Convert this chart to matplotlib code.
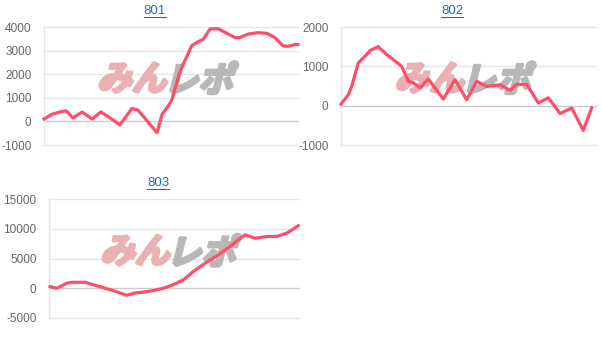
import matplotlib
matplotlib.use("Agg")
import matplotlib.pyplot as plt
from matplotlib.textpath import TextPath
from matplotlib.patches import PathPatch
from matplotlib.font_manager import FontProperties
from matplotlib.lines import Line2D
import matplotlib.transforms as mtrans

# progress through the day (0-100) and running balance per machine
x_801 = [0, 3.1, 6.3, 8.7, 11.4, 15, 18.9, 22.4, 26, 29.9, 34.6, 37, 44.5, 46.5,
         48.9, 50.3, 53.5, 58.1, 60.7, 62.7, 65.4, 68.5, 71.9, 75.2, 77.2, 80.3,
         84.3, 87.8, 90.9, 94.1, 96.1, 98.8, 100]
y_801 = [100, 300, 400, 450, 150, 400, 100, 400, 150, -150, 550, 480, -480, 300,
         650, 900, 2100, 3200, 3380, 3480, 3920, 3930, 3740, 3550, 3560, 3700,
         3760, 3730, 3550, 3200, 3180, 3260, 3260]

x_802 = [0, 2.9, 4.2, 6.8, 10.1, 11.4, 14.6, 17.9, 20.5, 23.8, 26.4, 28.4, 31,
         34.2, 40.1, 44.7, 49.3, 53.2, 57.1, 62.4, 66.3, 68.9, 72.8, 77.4, 81.3,
         85.9, 90.5, 95, 98.3]
y_802 = [40, 280, 490, 1090, 1300, 1400, 1500, 1300, 1170, 1000, 620, 580, 450,
         680, 170, 660, 150, 620, 490, 530, 390, 540, 540, 70, 200,
         -200, -60, -630, -60]

x_803 = [0.4, 3.1, 7.1, 9.1, 14.4, 20.4, 25.7, 31.1, 34.4, 37.7, 41.7, 45.7, 49.7,
         53.7, 57.7, 61.7, 67.1, 72.4, 75.7, 78.4, 82.4, 87.1, 91.1, 95.1, 99.7]
y_803 = [270, 0, 840, 1000, 1000, 270, -400, -1180, -800, -650, -400, 0, 600,
         1400, 2800, 4000, 5440, 7000, 8130, 8970, 8400, 8700, 8700, 9260, 10500]

titles = ["801", "802", "803"]
yticks = [[-1000, 0, 1000, 2000, 3000, 4000],
          [-1000, 0, 1000, 2000],
          [-5000, 0, 5000, 10000, 15000]]

W, H = 602, 343
fig = plt.figure(figsize=(W / 100, H / 100), dpi=100)
fig.patch.set_facecolor("white")

# axes boxes in pixels: left, right, top, bottom
boxes = [(44, 298, 27, 145), (341, 596, 27, 145), (49, 299, 199, 318)]
title_pos = [(155, 11), (452, 11), (158, 183)]

LINE_COLOR = "#ff4d6a"
GRID = "#e6e6e6"
TICK_COLOR = "#666666"
TITLE_COLOR = "#1a6fd0"

jp = FontProperties(family="Noto Sans CJK JP", weight="bold")


def add_watermark(ax):
    # skewed logo text, roughly centred a bit above the middle
    parts = [("みん", "#eab0b2", -1), ("レポ", "#b8b8b8", 1)]
    for txt, col, side in parts:
        tp = TextPath((0, 0), txt, size=25, prop=jp)
        ext = tp.get_extents()
        dx = -ext.x0 + 2 if side > 0 else -ext.x1 - 2
        tr = (mtrans.Affine2D().translate(dx, -ext.y0 - ext.height / 2)
              .skew_deg(14, 0).scale(1 / 72)
              + fig.dpi_scale_trans
              + mtrans.ScaledTranslation(0.5, 0.57, ax.transAxes))
        patch = PathPatch(tp, transform=tr, facecolor=col, edgecolor=col,
                          lw=2.2, joinstyle="round", zorder=1)
        ax.add_artist(patch)


series = [(x_801, y_801), (x_802, y_802), (x_803, y_803)]
for i, (l, r, t, b) in enumerate(boxes):
    ax = fig.add_axes([l / W, 1 - b / H, (r - l) / W, (b - t) / H])
    xs, ys = series[i]
    ticks = yticks[i]
    ax.set_xlim(0, 100)
    ax.set_ylim(ticks[0], ticks[-1])
    ax.set_yticks(ticks)
    ax.set_yticklabels([str(v) for v in ticks])
    ax.set_xticks([])
    ax.tick_params(axis="y", length=0, pad=9, labelsize=8.5, labelcolor=TICK_COLOR)
    for lab in ax.get_yticklabels():
        lab.set_fontfamily("Liberation Sans")
    for v in ticks:
        ax.axhline(v, color="#cccccc" if v == 0 else GRID, lw=1, zorder=0,
                   clip_on=False)
    for s in ["top", "right", "bottom"]:
        ax.spines[s].set_visible(False)
    ax.spines["left"].set_color(GRID)
    ax.spines["left"].set_linewidth(1)
    add_watermark(ax)
    ax.plot(xs, ys, color=LINE_COLOR, lw=2.3, zorder=3, clip_on=False,
            solid_joinstyle="round")

    tx, ty = title_pos[i]
    fig.text(tx / W, 1 - ty / H, titles[i], ha="center", va="center",
             fontsize=9.5, color=TITLE_COLOR, family="Liberation Sans")

# underline the titles like links
fig.canvas.draw()
renderer = fig.canvas.get_renderer()
for txt in fig.texts:
    bb = txt.get_window_extent(renderer)
    yy = (bb.y0 + 0.5) / H
    fig.add_artist(Line2D([bb.x0 / W, bb.x1 / W], [yy, yy], color=TITLE_COLOR,
                          lw=0.8, transform=fig.transFigure))

fig.savefig("out.png", dpi=100, facecolor="white")
